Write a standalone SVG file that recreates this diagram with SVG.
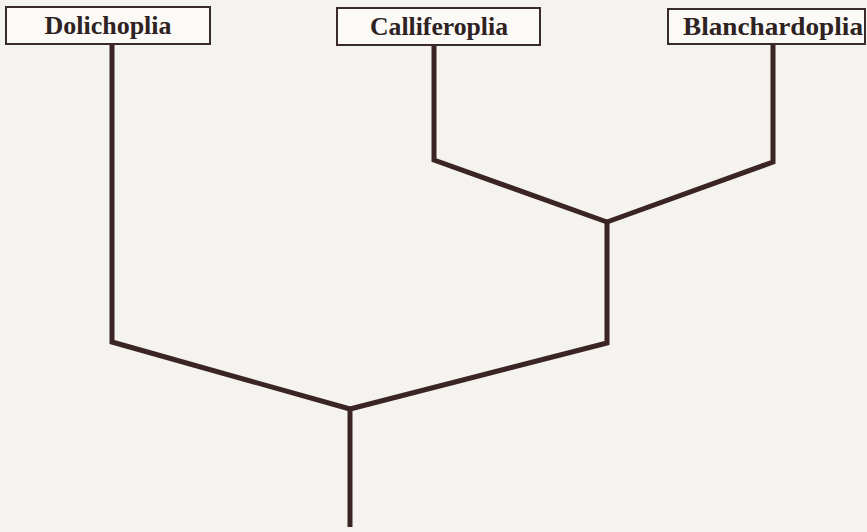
<svg xmlns="http://www.w3.org/2000/svg" width="867" height="532" viewBox="0 0 867 532">
<style>
.box{fill:#fbfaf7;stroke:#3a2a2a;stroke-width:2}
.lbl{font-family:"Liberation Serif",serif;font-weight:bold;font-size:25px;fill:#2e2222;text-anchor:middle}
.edge{fill:none;stroke:#3a2424;stroke-width:5;stroke-linejoin:miter}
</style>
<rect width="867" height="532" fill="#f4f3ef"/>
<g id="connectors">
<path class="edge" d="M112,44 V342 L350,409"/>
<path class="edge" d="M434,45 V160 L607,222"/>
<path class="edge" d="M773,44 V162 L607,222"/>
<path class="edge" d="M607,222 V343 L350,409"/>
<path class="edge" d="M350,409 V527"/>
</g>
<g id="dolichoplia">
<rect class="box" x="6" y="7" width="204" height="37"/>
<text class="lbl" x="108" y="34" textLength="127" lengthAdjust="spacingAndGlyphs">Dolichoplia</text>
</g>
<g id="calliferoplia">
<rect class="box" x="337" y="8" width="203" height="37"/>
<text class="lbl" x="439" y="35" textLength="138" lengthAdjust="spacingAndGlyphs">Calliferoplia</text>
</g>
<g id="blanchardoplia">
<rect class="box" x="668" y="9" width="197" height="35"/>
<text class="lbl" x="773" y="35" textLength="180" lengthAdjust="spacingAndGlyphs">Blanchardoplia</text>
</g>
</svg>
